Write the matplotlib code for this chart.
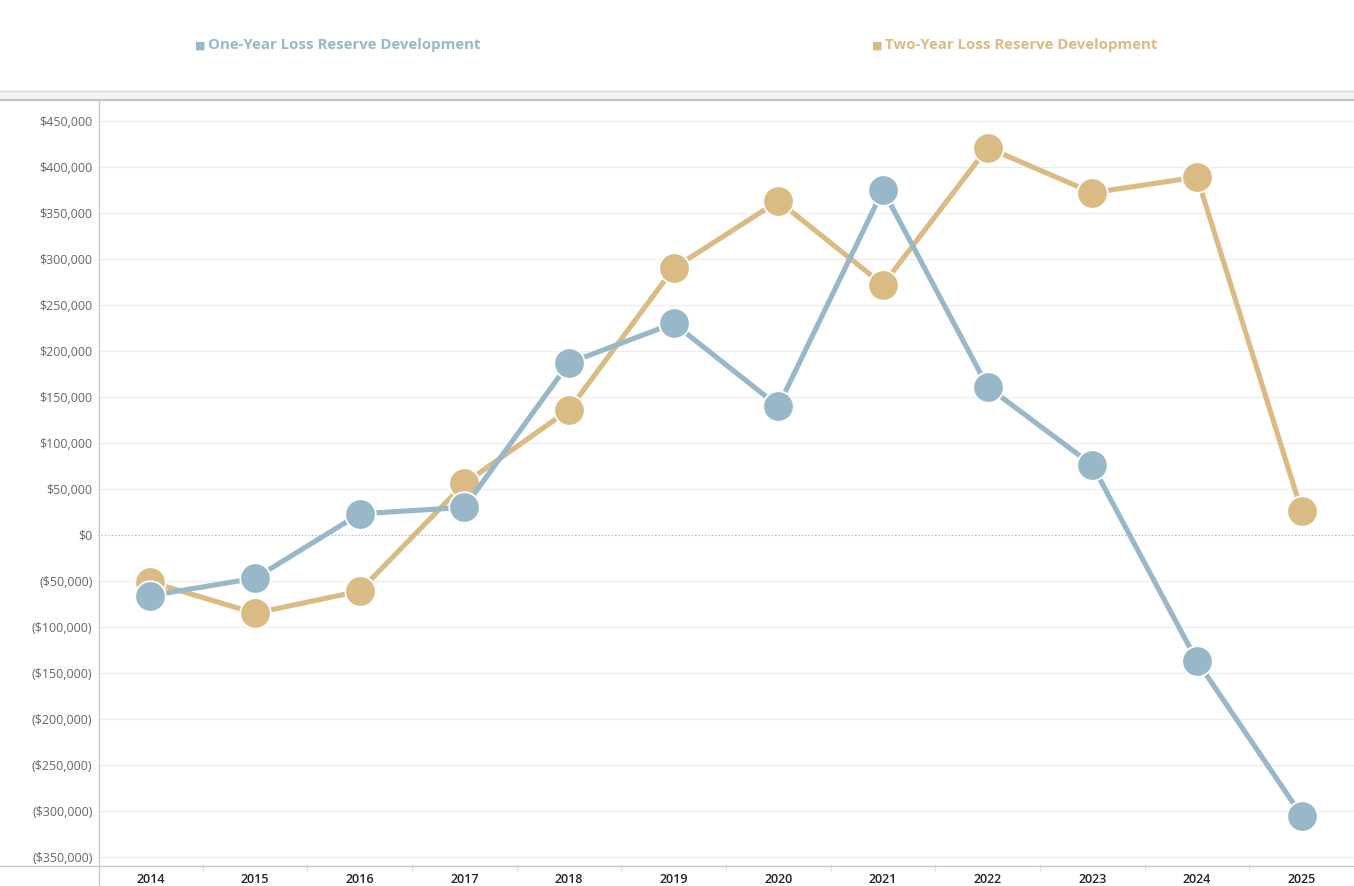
import matplotlib
matplotlib.use("Agg")
import matplotlib.pyplot as plt
from matplotlib.lines import Line2D
from matplotlib.patches import Rectangle

years = ["2014", "2015", "2016", "2017", "2018", "2019", "2020", "2021", "2022", "2023", "2024", "2025"]
one_year = [-66000, -47000, 23000, 30000, 187000, 230000, 140000, 375000, 161000, 76000, -137000, -305000]
two_year = [-51000, -85000, -61000, 56000, 136000, 290000, 363000, 272000, 421000, 372000, 389000, 26000]
series_names = ["One-Year Loss Reserve Development", "Two-Year Loss Reserve Development"]
ytick_vals = list(range(-350000, 450001, 50000))

BLUE = "#98B8CA"
GOLD = "#D9BB83"
W, H = 1354, 886
plt.rcParams['font.family'] = ['Open Sans', 'DejaVu Sans']

fig = plt.figure(figsize=(W / 100, H / 100), dpi=100)
fig.patch.set_facecolor("white")

def fx(px):
    return px / W

def fy(py):
    return 1 - py / H

# plot area
ax_l, ax_r, ax_t, ax_b = 98, 1354, 100, 865
ax = fig.add_axes([fx(ax_l), fy(ax_b), fx(ax_r - ax_l), (ax_b - ax_t) / H])
ax.set_facecolor("white")

x = list(range(len(years)))
ax.set_xlim(-0.5, len(years) - 0.5)
ax.set_ylim(-358700, 472800)

for v in ytick_vals:
    if v == 0:
        ax.axhline(0, color="#a8a8a8", lw=0.8, ls=(0, (1, 2)), zorder=1)
    else:
        ax.axhline(v, color="#ececec", lw=0.8, zorder=0)

ax.plot(x, two_year, color=GOLD, lw=3.7, marker="o", ms=22, mfc=GOLD,
        mec="white", mew=1.3, zorder=3, solid_capstyle="round")
ax.plot(x, one_year, color=BLUE, lw=3.7, marker="o", ms=22, mfc=BLUE,
        mec="white", mew=1.3, zorder=4, solid_capstyle="round")

ax.set_yticks(ytick_vals)
ylabels = []
for v in ytick_vals:
    if v < 0:
        ylabels.append("(${:,})".format(-v))
    else:
        ylabels.append("${:,}".format(v))
ax.set_yticklabels(ylabels, fontsize=9, color="#666666")
ax.set_xticks(x)
ax.set_xticklabels(years, fontsize=9, color="#222222", fontweight="semibold")
ax.tick_params(axis="y", length=0, pad=4)
ax.tick_params(axis="x", length=0, pad=6)
for s in ax.spines.values():
    s.set_visible(False)

# minor separators on x axis
for i in range(1, len(years)):
    xp = ax_l + (ax_r - ax_l) * i / len(years)
    fig.add_artist(Line2D([fx(xp), fx(xp)], [fy(865), fy(871)], color="#e2e2e2", lw=0.8))

# axis lines
fig.add_artist(Line2D([0, 1], [fy(865.5), fy(865.5)], color="#c8c8c8", lw=1.0))
fig.add_artist(Line2D([fx(98.5), fx(98.5)], [fy(100), 0], color="#c8c8c8", lw=1.0))

# band between legend and plot
fig.add_artist(Rectangle((0, fy(99.5)), 1, (99.5 - 90.5) / H, transform=fig.transFigure,
                         facecolor="#f4f4f4", edgecolor="none"))
fig.add_artist(Line2D([0, 1], [fy(90.5), fy(90.5)], color="#d6d6d6", lw=1.0))
fig.add_artist(Line2D([0, 1], [fy(99.5), fy(99.5)], color="#c4c4c4", lw=1.6))

# legend
fig.text(fx(195), fy(46), "\u25A0", color=BLUE, fontsize=8, va="center", ha="left")
fig.text(fx(208), fy(45), series_names[0], color=BLUE, fontsize=10.8, fontweight="bold",
         va="center", ha="left")
fig.text(fx(872), fy(46), "\u25A0", color=GOLD, fontsize=8, va="center", ha="left")
fig.text(fx(885), fy(45), series_names[1], color=GOLD, fontsize=10.8, fontweight="bold",
         va="center", ha="left")

fig.savefig("out.png", dpi=100, facecolor="white")
